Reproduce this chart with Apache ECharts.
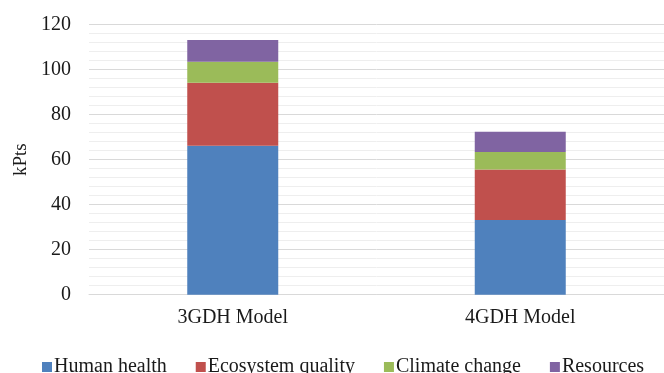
<!DOCTYPE html>
<html><head><meta charset="utf-8">
<script src="https://cdn.jsdelivr.net/npm/echarts@6/dist/echarts.min.js"></script>
<style>html,body{margin:0;padding:0;background:#fff}#c{width:664px;height:373px}</style>
</head><body><div id="c"></div>
<script>
const categories = ['3GDH Model', '4GDH Model'];
const humanHealth = [66.2, 33.2];
const ecosystemQuality = [28.0, 22.5];
const climateChange = [9.3, 7.7];
const resources = [9.7, 9.0];
const seriesNames = ['Human health', 'Ecosystem quality', 'Climate change', 'Resources'];
const colors = ['#4f81bd', '#c0504d', '#9bbb59', '#8064a2'];
const font = 'Liberation Serif';
const chart = echarts.init(document.getElementById('c'));
const data = [humanHealth, ecosystemQuality, climateChange, resources];
chart.setOption({
  animation: false,
  color: colors,
  grid: {left: 89, right: -7, top: 24.7, bottom: 78.3},
  legend: {
    data: seriesNames, top: 352, left: 37, itemWidth: 10, itemHeight: 10, itemGap: 29,
    icon: 'rect', textStyle: {fontFamily: font, fontSize: 20, color: '#1a1a1a', padding: [0,0,0,-3]}
  },
  xAxis: {
    type: 'category', data: categories,
    axisLine: {lineStyle: {color: '#d9d9d9', width: 1}},
    axisTick: {show: false},
    axisLabel: {fontFamily: font, fontSize: 20, color: '#1a1a1a', margin: 13}
  },
  yAxis: {
    type: 'value', min: 0, max: 120, interval: 20,
    name: 'kPts', nameLocation: 'middle', nameGap: 55,
    nameTextStyle: {fontFamily: font, fontSize: 19, color: '#1a1a1a'},
    axisLabel: {fontFamily: font, fontSize: 20, color: '#1a1a1a', margin: 18},
    axisLine: {show: false}, axisTick: {show: false},
    splitLine: {lineStyle: {color: '#d9d9d9', width: 1}},
    minorTick: {show: false, splitNumber: 5},
    minorSplitLine: {show: true, lineStyle: {color: '#eeeeee', width: 1}}
  },
  series: seriesNames.map((n, i) => ({
    name: n, type: 'bar', stack: 'total', barWidth: 91, data: data[i]
  }))
});
</script></body></html>
